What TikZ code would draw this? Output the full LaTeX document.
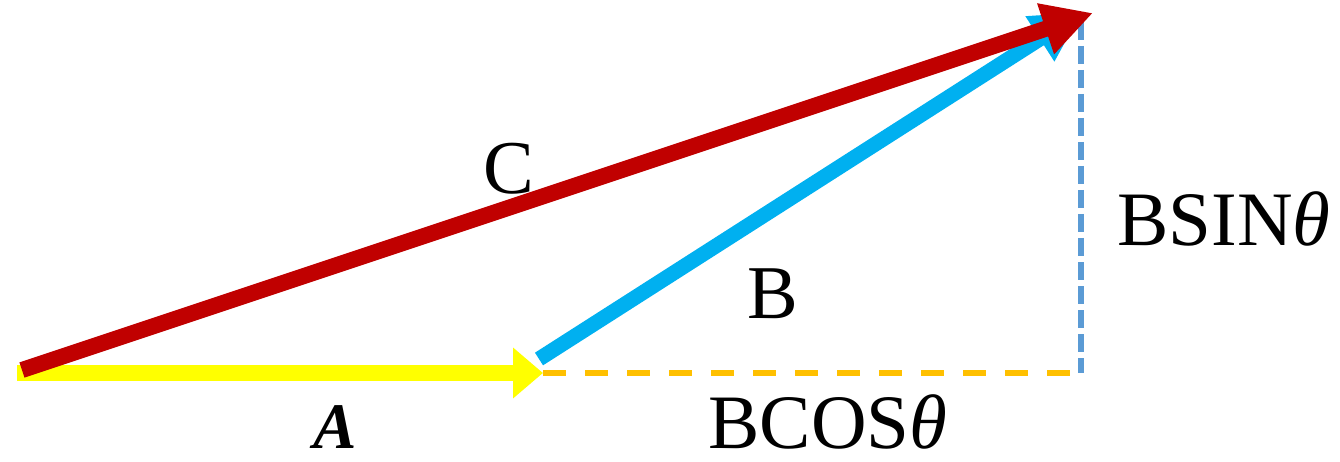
\documentclass[tikz,border=0pt]{standalone}
\usepackage{fontspec}
\setmainfont{Liberation Serif}
\usetikzlibrary{arrows.meta}
\definecolor{vred}{HTML}{C00000}
\definecolor{vblue}{HTML}{00B0F0}
\definecolor{vyellow}{HTML}{FFFF00}
\definecolor{vorange}{HTML}{FFC000}
\definecolor{vdash}{HTML}{5B9BD5}
\tikzset{
  vec/.style={line width=16pt, line cap=butt},
  bigtip/.style={-{Triangle[length=50pt,width=50pt]}},
  lbig/.style={anchor=base, inner sep=0pt, text depth=0pt, font=\fontsize{76}{82}\selectfont},
  lmid/.style={anchor=base, inner sep=0pt, text depth=0pt, font=\fontsize{77}{84}\selectfont},
}
\begin{document}
\begin{tikzpicture}[x=1pt,y=-1pt]
\useasboundingbox (0,0) rectangle (1340,462);
\coordinate (O) at (17,373);
\coordinate (Ared) at (22,370);
\coordinate (Atip) at (543,373);
\coordinate (Bstart) at (539,359);
\coordinate (Btip) at (1082,12);
\coordinate (Ctip) at (1093,13);
\coordinate (Dend) at (1072,373);
\coordinate (Vtop) at (1081,22);
\coordinate (Vbot) at (1081,373);
% yellow A
\draw[vec, vyellow, -{Triangle[length=30pt,width=49pt]}] (O) -- (Atip);
% dashed components
\draw[vorange, line width=6pt, dash pattern=on 23pt off 19pt] (Atip) -- (Dend);
\draw[vdash, line width=6pt, dash pattern=on 18pt off 6pt] (Vtop) -- (Vbot);
% blue B
\draw[vec, vblue, line width=15pt, bigtip] (Bstart) -- (Btip);
% red C
\draw[vec, vred, bigtip] (Ared) -- (Ctip);
% labels
\node[lbig] (lC) at (509,194) {C};
\node[lbig] (lB) at (773,318) {B};
\node[lmid] (lS) at (1224,246) {BSIN\textit{θ}};
\node[lmid] (lCo) at (828,448) {BCOS\textit{θ}};
\node[anchor=base, inner sep=0pt, text depth=0pt, font=\fontsize{65}{72}\selectfont\bfseries\itshape] (lA) at (335,448) {A};
\end{tikzpicture}
\end{document}
